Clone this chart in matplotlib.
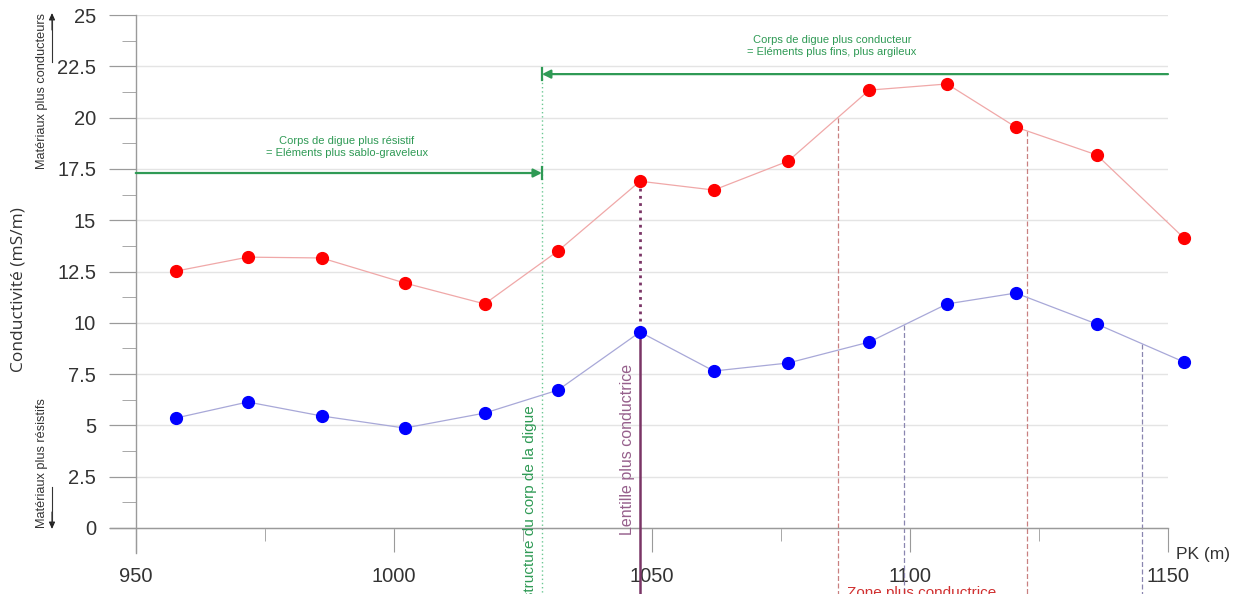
import numpy as np
import matplotlib
matplotlib.use("Agg")
import matplotlib.pyplot as plt
from matplotlib.ticker import MultipleLocator

plt.rcParams["font.family"] = ["Liberation Sans", "DejaVu Sans"]

# --- données ---
pk = [957.8, 971.7, 986.0, 1002.1, 1017.6, 1031.8, 1047.7,
      1062.0, 1076.4, 1092.1, 1107.2, 1120.5, 1136.2, 1153.1]
cond_rouge = [12.52, 13.2, 13.16, 11.94, 10.92, 13.5, 16.9,
              16.47, 17.88, 21.34, 21.64, 19.54, 18.18, 14.13]
cond_bleu = [5.36, 6.14, 5.46, 4.87, 5.6, 6.72, 9.55,
             7.65, 8.04, 9.06, 10.92, 11.45, 9.94, 8.09]

pk_rupture = 1028.7          # changement de structure
niv_resistif = 17.3
niv_conducteur = 22.12
pk_lentille = 1047.7
pk_zone_rouge = [1086.0, 1122.7]
pk_zone_bleu = [1098.8, 1145.0]

vert = "#2f9a55"
violet = "#7a3566"

fig = plt.figure(figsize=(12.44, 5.94), dpi=100)
ax = fig.add_axes([0.0884, 0.069, 0.8505, 0.9057])
ax.set_xlim(945, 1150)
ax.set_ylim(-1.22, 25)

# axes en croix
for s in ["top", "right"]:
    ax.spines[s].set_visible(False)
ax.spines["left"].set_position(("data", 950))
ax.spines["bottom"].set_position(("data", 0))
for s in ["left", "bottom"]:
    ax.spines[s].set_color("#9a9a9a")
    ax.spines[s].set_linewidth(1)

ax.yaxis.set_major_locator(MultipleLocator(2.5))
ax.yaxis.set_minor_locator(MultipleLocator(1.25))
ax.xaxis.set_major_locator(MultipleLocator(50))
ax.xaxis.set_minor_locator(MultipleLocator(25))
ax.yaxis.set_major_formatter(plt.FuncFormatter(lambda v, p: f"{v:g}"))
ax.tick_params(axis="y", which="major", length=19.5, pad=9, labelsize=14.5,
               color="#9a9a9a", labelcolor="#333333")
ax.tick_params(axis="y", which="minor", length=10, color="#9a9a9a")
ax.tick_params(axis="x", which="major", length=17.3, pad=11, labelsize=14.5,
               color="#9a9a9a", labelcolor="#333333")
ax.tick_params(axis="x", which="minor", length=9.4, color="#9a9a9a")
ax.grid(axis="y", which="major", color="#e4e4e4", linewidth=1)
ax.set_axisbelow(True)

# courbes
ax.plot(pk, cond_rouge, color="#f0a8a8", lw=0.9, zorder=3, clip_on=False)
ax.plot(pk, cond_bleu, color="#a8a8d8", lw=0.9, zorder=3, clip_on=False)
ax.plot(pk, cond_rouge, "o", color="#ff0000", ms=8.5, zorder=5, clip_on=False)
ax.plot(pk, cond_bleu, "o", color="#0000ff", ms=8.5, zorder=5, clip_on=False)

bas = -4
# limite de structure
ax.plot([pk_rupture, pk_rupture], [niv_conducteur, bas], color="#6cc893",
        ls=(0, (1, 2)), lw=1, clip_on=False, zorder=2)
ax.text(1026.4, 6.0, "Changement de structure du corp de la digue", rotation=90,
        ha="center", va="top", fontsize=11, color=vert, clip_on=False)

# lentille
y_r = np.interp(pk_lentille, pk, cond_rouge)
y_b = np.interp(pk_lentille, pk, cond_bleu)
ax.plot([pk_lentille, pk_lentille], [y_r, y_b], color=violet, ls=(0, (1, 1.6)),
        lw=2, zorder=4)
ax.plot([pk_lentille, pk_lentille], [y_b, bas], color=violet, lw=1.8,
        clip_on=False, zorder=4)
ax.text(1045.3, -0.35, "Lentille plus conductrice", rotation=90, ha="center",
        va="bottom", fontsize=11.5, color="#96608c")

# zones conductrices
for x in pk_zone_rouge:
    ax.plot([x, x], [np.interp(x, pk, cond_rouge), bas], color="#c98080",
            ls=(0, (4, 2)), lw=0.9, clip_on=False, zorder=2)
for x in pk_zone_bleu:
    ax.plot([x, x], [np.interp(x, pk, cond_bleu), bas], color="#8a86b0",
            ls=(0, (4, 2)), lw=0.9, clip_on=False, zorder=2)
ax.text(1087.8, -2.85, "Zone plus conductrice", ha="left", va="top",
        fontsize=11, color="#d03030", clip_on=False)

# fleches vertes
ax.annotate("", xy=(pk_rupture, niv_resistif), xytext=(950, niv_resistif),
            arrowprops=dict(arrowstyle="-|>,head_length=0.5,head_width=0.25",
                            color=vert, lw=1.6, shrinkA=0, shrinkB=0))
ax.annotate("", xy=(pk_rupture, niv_conducteur), xytext=(1150, niv_conducteur),
            arrowprops=dict(arrowstyle="-|>,head_length=0.5,head_width=0.25",
                            color=vert, lw=1.6, shrinkA=0, shrinkB=0),
            annotation_clip=False)
ax.plot([pk_rupture] * 2, [niv_resistif - 0.3, niv_resistif + 0.3], color=vert, lw=1.6)
ax.plot([pk_rupture] * 2, [niv_conducteur - 0.3, niv_conducteur + 0.3], color=vert, lw=1.6)
ax.text(990.9, 18.57, "Corps de digue plus résistif\n= Eléments plus sablo-graveleux",
        ha="center", va="center", fontsize=8, color=vert, linespacing=1.15)
ax.text(1084.9, 23.49, "Corps de digue plus conducteur\n= Eléments plus fins, plus argileux",
        ha="center", va="center", fontsize=8, color=vert, linespacing=1.15)

# textes de bord
fig.text(0.0145, 0.513, "Conductivité (mS/m)", rotation=90, ha="center",
         va="center", fontsize=12.5, color="#333333", family="Open Sans")
fig.text(0.945, 0.0657, "PK (m)", ha="left", va="center", fontsize=12.5,
         color="#333333")
fig.text(0.0338, 0.978, "Matériaux plus conducteurs", rotation=90, ha="center",
         va="top", fontsize=9.2, color="#333333")
fig.text(0.0338, 0.111, "Matériaux plus résistifs", rotation=90, ha="center",
         va="bottom", fontsize=9.2, color="#333333")
fig.add_artist(plt.Line2D([0.0418, 0.0418], [1 - 62 / 594, 1 - 18 / 594],
                          color="#333333", lw=0.8))
fig.add_artist(plt.Line2D([0.0418, 0.0418], [1 - 487 / 594, 1 - 523 / 594],
                          color="#333333", lw=0.8))
ax.annotate("", xy=(0.0418, 1 - 13 / 594), xytext=(0.0418, 1 - 30 / 594),
            xycoords="figure fraction",
            arrowprops=dict(arrowstyle="-|>,head_length=0.4,head_width=0.18",
                            color="#222222", lw=0.8, shrinkA=0, shrinkB=0))
ax.annotate("", xy=(0.0418, 1 - 529 / 594), xytext=(0.0418, 1 - 512 / 594),
            xycoords="figure fraction",
            arrowprops=dict(arrowstyle="-|>,head_length=0.4,head_width=0.18",
                            color="#222222", lw=0.8, shrinkA=0, shrinkB=0))

fig.savefig("out.png", dpi=100)
